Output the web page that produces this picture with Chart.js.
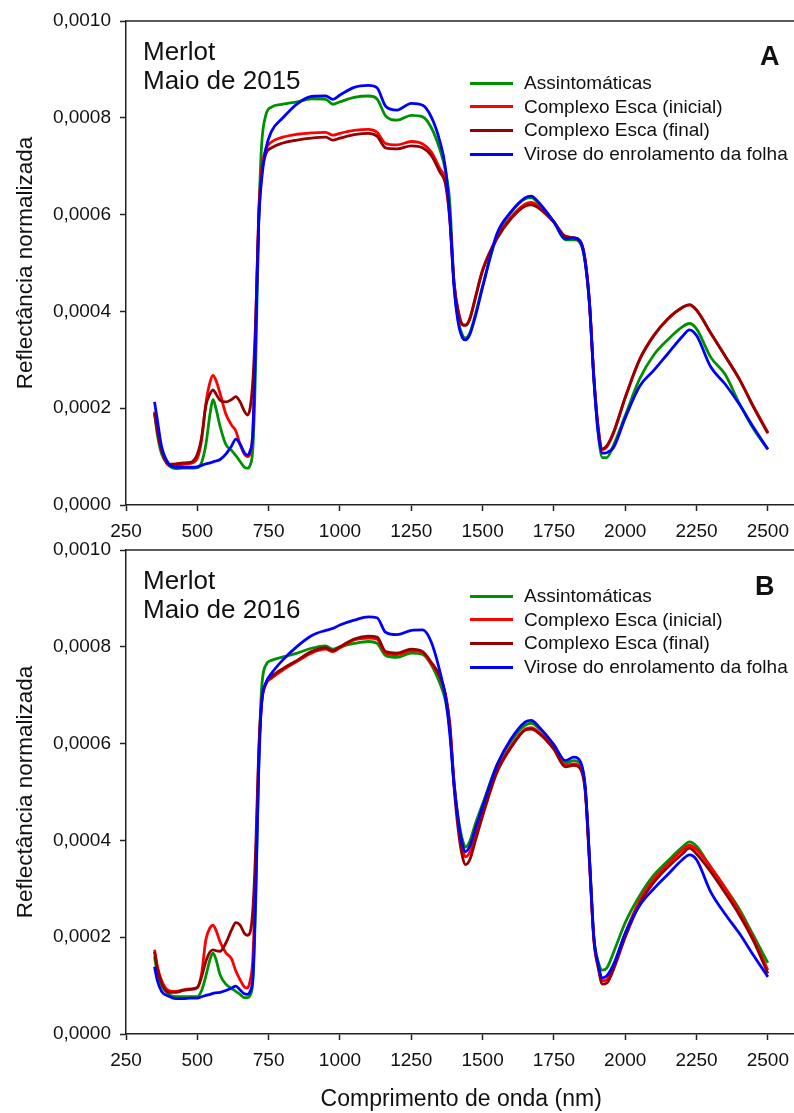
<!DOCTYPE html>
<html lang="pt">
<head>
<meta charset="utf-8">
<title>Merlot - Reflectância normalizada</title>
<script src="https://cdn.jsdelivr.net/npm/chart.js@4.4.0/dist/chart.umd.min.js"></script>
<style>
    html, body {
        margin: 0;
        padding: 0;
        background: #fff;
    }
    body {
        position: relative;
        width: 794px;
        height: 1113px;
        overflow: hidden;
        font-family: "Liberation Sans", Arial, sans-serif;
        color: #111;
    }
    canvas {
        position: absolute;
        left: 0;
    }
    #chartA { top: 0; }
    #chartB { top: 529px; }
    .note {
        position: absolute;
        left: 143px;
        font-size: 26px;
        line-height: 29px;
        white-space: nowrap;
    }
    .panel {
        position: absolute;
        font-size: 27px;
        font-weight: bold;
        line-height: 30px;
    }
    .legend {
        position: absolute;
        left: 470px;
        width: 320px;
    }
    .legend-row {
        position: relative;
        height: 23.7px;
    }
    .legend-line {
        position: absolute;
        left: 0;
        top: 10.5px;
        width: 43px;
        height: 3px;
    }
    .legend-text {
        position: absolute;
        left: 54px;
        top: 0;
        font-size: 19px;
        line-height: 24px;
        white-space: nowrap;
    }
</style>
</head>
<body>

<canvas id="chartA" width="798" height="545"></canvas>
<canvas id="chartB" width="798" height="584"></canvas>

<div class="note" style="top: 36.5px;">Merlot<br>Maio de 2015</div>
<div class="panel" style="left: 760px; top: 41px;">A</div>
<div class="legend" id="js-legendA" style="top: 71px;"></div>

<div class="note" style="top: 565.5px;">Merlot<br>Maio de 2016</div>
<div class="panel" style="left: 755px; top: 571px;">B</div>
<div class="legend" id="js-legendB" style="top: 584px;"></div>

<script>
//
// Variables
//

// Wavelength (nm) of every sample
var wavelengths = [
    350, 360, 375, 400, 425, 450, 475, 500,
    515, 530, 545, 555, 565, 580,
    600, 620, 635, 650, 665, 675, 685, 695,
    705, 715, 725, 740, 760,
    800, 850, 900, 950, 975, 1000,
    1050, 1100, 1130, 1160, 1200,
    1250, 1290, 1320, 1350, 1370, 1385,
    1400, 1415, 1430, 1440, 1455, 1475, 1500,
    1550, 1600, 1650, 1670, 1700, 1750,
    1790, 1820, 1845, 1860, 1875, 1890, 1905, 1920, 1935, 1960,
    2000, 2050, 2100, 2150, 2200, 2225, 2250,
    2300, 2350, 2400, 2450, 2500
];

var seriesNames = [
    'Assintomáticas',
    'Complexo Esca (inicial)',
    'Complexo Esca (final)',
    'Virose do enrolamento da folha'
];

var seriesColors = [
    'rgb(0, 145, 0)',
    'rgb(255, 0, 0)',
    'rgb(150, 0, 0)',
    'rgb(0, 0, 255)'
];

// Normalized reflectance, in units of 0,0001 - May 2015 (panel A)
var assintomaticas2015 = [
    1.90, 1.45, 1.05, 0.82, 0.75, 0.76, 0.76, 0.77,
    0.88, 1.25, 1.90, 2.18, 2.00, 1.62,
    1.25, 1.13, 1.02, 0.90, 0.78, 0.76, 0.82, 1.20,
    3.00, 5.80, 7.40, 8.05, 8.22,
    8.28, 8.33, 8.39, 8.38, 8.28, 8.33,
    8.42, 8.45, 8.39, 8.04, 7.95,
    8.05, 8.02, 7.80, 7.35, 6.90, 6.25,
    4.55, 3.80, 3.50, 3.45, 3.55, 3.95, 4.52,
    5.55, 6.05, 6.33, 6.35, 6.20, 5.85,
    5.48, 5.48, 5.38, 5.00, 4.10, 2.60, 1.50, 0.98, 0.98, 1.25,
    1.85, 2.60, 3.10, 3.42, 3.68, 3.75, 3.64,
    3.05, 2.70, 2.10, 1.57, 1.15
];
var escaInicial2015 = [
    1.93, 1.55, 1.15, 0.82, 0.82, 0.84, 0.86, 0.97,
    1.35, 2.10, 2.55, 2.68, 2.58, 2.30,
    1.88, 1.65, 1.53, 1.25, 1.05, 1.00, 1.06, 1.60,
    3.80, 6.00, 6.90, 7.35, 7.50,
    7.60, 7.66, 7.69, 7.70, 7.64, 7.68,
    7.74, 7.76, 7.70, 7.47, 7.44,
    7.51, 7.46, 7.30, 6.95, 6.70, 5.95,
    4.60, 4.00, 3.73, 3.72, 3.85, 4.30, 4.86,
    5.52, 5.95, 6.22, 6.25, 6.15, 5.85,
    5.55, 5.52, 5.42, 5.05, 4.15, 2.65, 1.60, 1.14, 1.20, 1.50,
    2.22, 3.00, 3.50, 3.85, 4.08, 4.13, 4.02,
    3.55, 3.08, 2.60, 2.03, 1.50
];
var escaFinal2015 = [
    1.90, 1.52, 1.12, 0.84, 0.85, 0.87, 0.88, 1.05,
    1.40, 2.05, 2.30, 2.38, 2.30, 2.16,
    2.13, 2.18, 2.24, 2.13, 1.94, 1.86, 2.00, 2.60,
    3.90, 5.90, 6.80, 7.25, 7.38,
    7.48, 7.54, 7.58, 7.60, 7.54, 7.58,
    7.65, 7.68, 7.62, 7.38, 7.36,
    7.42, 7.38, 7.22, 6.88, 6.62, 5.90,
    4.58, 3.98, 3.72, 3.71, 3.84, 4.28, 4.84,
    5.50, 5.92, 6.18, 6.20, 6.12, 5.84,
    5.55, 5.52, 5.42, 5.05, 4.15, 2.65, 1.62, 1.16, 1.22, 1.52,
    2.22, 3.00, 3.50, 3.85, 4.08, 4.14, 4.03,
    3.55, 3.08, 2.60, 2.02, 1.48
];
var virose2015 = [
    2.13, 1.75, 1.20, 0.85, 0.78, 0.78, 0.78, 0.79,
    0.82, 0.85, 0.87, 0.89, 0.91, 0.94,
    1.05, 1.22, 1.36, 1.26, 1.08, 1.03, 1.12, 1.50,
    3.60, 5.80, 6.70, 7.35, 7.72,
    8.00, 8.29, 8.44, 8.45, 8.38, 8.47,
    8.63, 8.67, 8.62, 8.24, 8.16,
    8.30, 8.26, 8.02, 7.52, 6.95, 5.95,
    4.50, 3.75, 3.45, 3.41, 3.52, 3.90, 4.50,
    5.60, 6.06, 6.35, 6.38, 6.23, 5.85,
    5.50, 5.52, 5.41, 5.00, 4.15, 2.60, 1.50, 1.07, 1.08, 1.20,
    1.80, 2.45, 2.78, 3.13, 3.48, 3.62, 3.50,
    2.85, 2.50, 2.08, 1.60, 1.15
];

// Normalized reflectance, in units of 0,0001 - May 2016 (panel B)
var assintomaticas2016 = [
    1.60, 1.25, 1.00, 0.82, 0.77, 0.77, 0.77, 0.77,
    0.90, 1.20, 1.55, 1.67, 1.55, 1.22,
    1.03, 0.94, 0.88, 0.82, 0.75, 0.75, 0.80, 1.10,
    2.80, 5.50, 7.10, 7.62, 7.72,
    7.79, 7.87, 7.97, 8.02, 7.95, 8.00,
    8.07, 8.11, 8.07, 7.82, 7.78,
    7.87, 7.84, 7.63, 7.25, 6.88, 6.30,
    5.20, 4.45, 4.00, 3.86, 3.98, 4.35, 4.75,
    5.55, 6.05, 6.38, 6.42, 6.30, 5.95,
    5.60, 5.65, 5.55, 5.05, 3.60, 2.00, 1.50, 1.32, 1.36, 1.70,
    2.30, 2.85, 3.28, 3.58, 3.86, 3.97, 3.88,
    3.44, 3.02, 2.58, 2.03, 1.47
];
var escaInicial2016 = [
    1.74, 1.40, 1.10, 0.90, 0.88, 0.91, 0.93, 0.96,
    1.25, 1.95, 2.20, 2.25, 2.15, 1.90,
    1.68, 1.55, 1.30, 1.12, 0.97, 0.95, 1.10, 1.60,
    3.50, 5.70, 6.80, 7.22, 7.35,
    7.52, 7.70, 7.87, 7.95, 7.90, 7.98,
    8.14, 8.18, 8.16, 7.87, 7.84,
    7.92, 7.88, 7.65, 7.38, 7.00, 6.40,
    5.20, 4.35, 3.82, 3.66, 3.76, 4.15, 4.60,
    5.45, 5.95, 6.30, 6.33, 6.22, 5.90,
    5.55, 5.58, 5.48, 5.05, 3.55, 1.95, 1.40, 1.10, 1.12, 1.42,
    2.08, 2.75, 3.20, 3.52, 3.80, 3.90, 3.81,
    3.45, 3.02, 2.52, 1.97, 1.32
];
var escaFinal2016 = [
    1.70, 1.35, 1.05, 0.86, 0.86, 0.90, 0.92, 0.96,
    1.18, 1.50, 1.70, 1.74, 1.72, 1.71,
    1.88, 2.15, 2.30, 2.25, 2.08, 2.04, 2.10, 2.60,
    3.90, 5.80, 6.85, 7.25, 7.38,
    7.55, 7.72, 7.90, 7.98, 7.92, 8.00,
    8.16, 8.22, 8.20, 7.90, 7.87,
    7.95, 7.90, 7.68, 7.40, 7.02, 6.40,
    5.10, 4.20, 3.65, 3.50, 3.60, 4.00, 4.50,
    5.40, 5.92, 6.28, 6.30, 6.20, 5.88,
    5.52, 5.55, 5.45, 5.00, 3.50, 1.95, 1.38, 1.03, 1.05, 1.35,
    2.00, 2.68, 3.13, 3.45, 3.72, 3.84, 3.72,
    3.35, 2.92, 2.46, 1.92, 1.25
];
var virose2016 = [
    1.39, 1.10, 0.88, 0.78, 0.73, 0.73, 0.74, 0.74,
    0.77, 0.80, 0.82, 0.84, 0.85, 0.86,
    0.90, 0.95, 0.99, 0.91, 0.83, 0.82, 0.88, 1.20,
    3.00, 5.40, 6.80, 7.25, 7.45,
    7.73, 8.01, 8.23, 8.34, 8.38, 8.45,
    8.55, 8.62, 8.60, 8.30, 8.25,
    8.34, 8.35, 8.10, 7.50, 6.95, 6.20,
    5.15, 4.40, 3.90, 3.77, 3.88, 4.25, 4.70,
    5.55, 6.10, 6.45, 6.48, 6.33, 5.98,
    5.65, 5.72, 5.60, 5.10, 3.60, 2.00, 1.45, 1.16, 1.20, 1.45,
    2.08, 2.65, 3.00, 3.30, 3.60, 3.70, 3.60,
    2.93, 2.48, 2.08, 1.62, 1.18
];

// Tick values and labels
var xTickValues = [250, 500, 750, 1000, 1250, 1500, 1750, 2000, 2250, 2500];
var yTickValues = [0, 0.0002, 0.0004, 0.0006, 0.0008, 0.0010];
var yTickLabels = ['0,0000', '0,0002', '0,0004', '0,0006', '0,0008', '0,0010'];

var yAxisTitle = 'Reflectância normalizada';
var xAxisTitle = 'Comprimento de onda (nm)';

var axisColor = '#222';
var textColor = '#111';
var fontFamily = '"Liberation Sans", Arial, sans-serif';


//
// Methods
//

/**
 * Draw the top frame line of the plot area
 */
var topFramePlugin = {
    id: 'topFrame',
    afterDraw: function (chart) {
        var area = chart.chartArea;
        var ctx = chart.ctx;
        ctx.save();
        ctx.strokeStyle = axisColor;
        ctx.lineWidth = 1.5;
        ctx.beginPath();
        ctx.moveTo(area.left, area.top);
        ctx.lineTo(area.right, area.top);
        ctx.stroke();
        ctx.restore();
    }
};


/**
 * Turn the series arrays into Chart.js datasets
 * @param  {array} series list of value arrays, in units of 0,0001
 * @return {array}        datasets
 */
function buildDatasets(series) {
    return series.map(function (values, index) {
        return {
            label: seriesNames[index],
            data: values.map(function (value, i) {
                return { x: wavelengths[i], y: value / 10000 };
            }),
            borderColor: seriesColors[index],
            backgroundColor: seriesColors[index],
            borderWidth: 2.8,
            pointRadius: 0,
            fill: false,
            cubicInterpolationMode: 'monotone',
            // last series drawn on top
            order: series.length - index
        };
    });
};


/**
 * Create one of the two spectra charts
 * @param  {string} selector    canvas selector
 * @param  {array}  series      value arrays
 * @param  {number} xAxisHeight height reserved below the plot
 * @param  {boolean} showXTitle draw the x axis title
 * @return {Chart}
 */
function renderSpectraChart(selector, series, xAxisHeight, showXTitle) {
    var ctx = document.querySelector(selector).getContext('2d');

    return new Chart(ctx, {
        type: 'line',
        data: {
            datasets: buildDatasets(series)
        },
        options: {
            responsive: false,
            animation: false,
            events: [],
            layout: {
                padding: { top: 21, right: 0, bottom: 0, left: 0 }
            },
            plugins: {
                legend: { display: false },
                tooltip: { enabled: false }
            },
            scales: {
                x: {
                    type: 'linear',
                    min: 250,
                    max: 2600,
                    afterBuildTicks: function (scale) {
                        scale.ticks = xTickValues.map(function (v) { return { value: v }; });
                    },
                    afterFit: function (scale) {
                        scale.height = xAxisHeight;
                    },
                    ticks: {
                        color: textColor,
                        font: { family: fontFamily, size: 19 },
                        padding: 9,
                        maxRotation: 0,
                        autoSkip: false,
                        callback: function (value) { return String(value); }
                    },
                    grid: {
                        drawOnChartArea: false,
                        drawTicks: true,
                        tickLength: 6,
                        tickColor: axisColor,
                        tickWidth: 1.5
                    },
                    border: { display: true, color: axisColor, width: 1.5 },
                    title: {
                        display: showXTitle,
                        text: xAxisTitle,
                        color: textColor,
                        font: { family: fontFamily, size: 23 },
                        padding: { top: 0, bottom: 0 }
                    }
                },
                y: {
                    type: 'linear',
                    min: 0,
                    max: 0.001,
                    afterBuildTicks: function (scale) {
                        scale.ticks = yTickValues.map(function (v) { return { value: v }; });
                    },
                    afterFit: function (scale) {
                        scale.width = 126;
                    },
                    ticks: {
                        color: textColor,
                        font: { family: fontFamily, size: 19 },
                        padding: 9,
                        callback: function (value, index) { return yTickLabels[index]; }
                    },
                    grid: {
                        drawOnChartArea: false,
                        drawTicks: true,
                        tickLength: 6,
                        tickColor: axisColor,
                        tickWidth: 1.5
                    },
                    border: { display: true, color: axisColor, width: 1.5 },
                    title: {
                        display: true,
                        text: yAxisTitle,
                        color: textColor,
                        font: { family: fontFamily, size: 22.5 },
                        padding: { top: 12, bottom: 0 }
                    }
                }
            }
        },
        plugins: [topFramePlugin]
    });
};


/**
 * Build the legend rows next to a chart
 */
function renderLegend(selector) {
    var legend = document.querySelector(selector);
    legend.innerHTML = seriesNames.map(function (name, index) {
        return '<div class="legend-row">' +
            '<span class="legend-line" style="background:' + seriesColors[index] + '"></span>' +
            '<span class="legend-text">' + name + '</span>' +
            '</div>';
    }).join('');
};


//
// Render
//

renderLegend('#js-legendA');
renderLegend('#js-legendB');

renderSpectraChart('#chartA',
    [assintomaticas2015, escaInicial2015, escaFinal2015, virose2015], 40, false);
renderSpectraChart('#chartB',
    [assintomaticas2016, escaInicial2016, escaFinal2016, virose2016], 79, true);
</script>
</body>
</html>
